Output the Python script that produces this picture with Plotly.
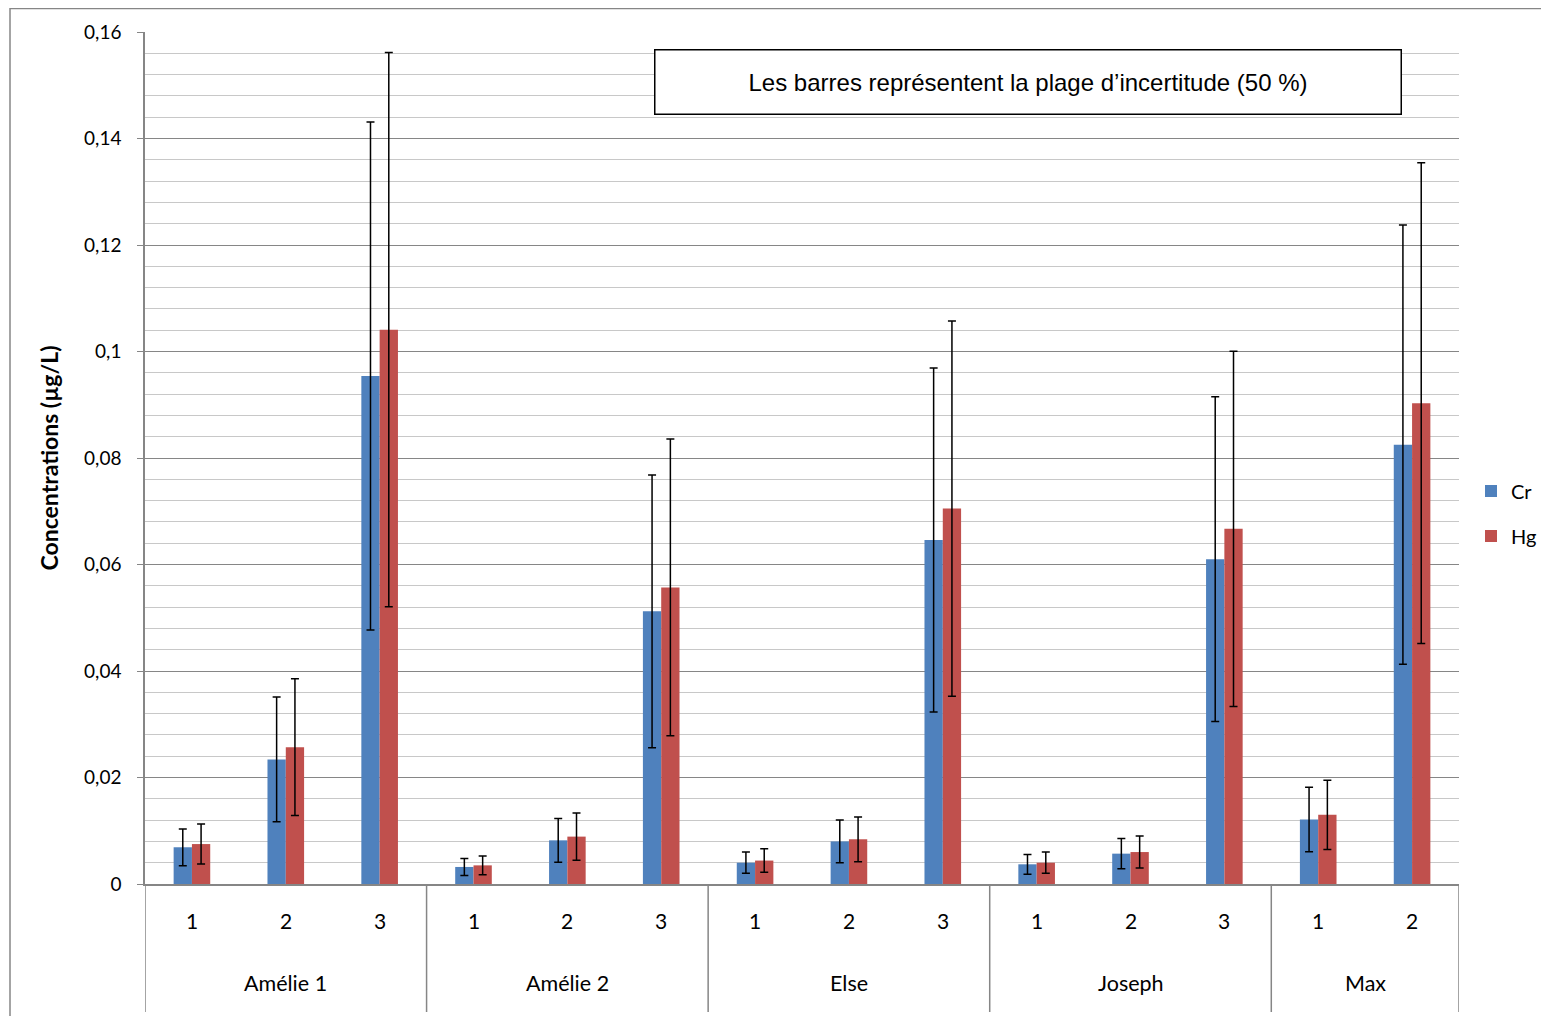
import plotly.graph_objects as go

groups = ["Amélie 1"] * 3 + ["Amélie 2"] * 3 + ["Else"] * 3 + ["Joseph"] * 3 + ["Max"] * 2
samples = ["1", "2", "3", "1", "2", "3", "1", "2", "3", "1", "2", "3", "1", "2"]
cr = [0.0069, 0.0234, 0.0954, 0.0032, 0.0082, 0.0512, 0.0040, 0.0080, 0.0646, 0.0037, 0.0057, 0.0610, 0.0121, 0.0825]
hg = [0.0075, 0.0257, 0.1041, 0.0035, 0.0089, 0.0557, 0.0044, 0.0084, 0.0705, 0.0040, 0.0060, 0.0667, 0.0130, 0.0903]
uncertainty_pct = 50
y_ticks = [0, 0.02, 0.04, 0.06, 0.08, 0.1, 0.12, 0.14, 0.16]

# page body has an 8px margin: figure coordinates = screen - 8
W, H = 1541, 1008
L, R, T, B = 137, 1451, 24, 876
PW, PH = R - L, B - T


def px(xs):
    return (xs - 8 - L) / PW


def py(ys):
    return (B - (ys - 8)) / PH


cats = [f"{g} – {s}" for g, s in zip(groups, samples)]

err = dict(type="percent", value=uncertainty_pct, color="black", thickness=1.5, width=4)

fig = go.Figure()
fig.add_trace(go.Bar(x=cats, y=cr, name="Cr", marker_color="#4F81BD",
                     marker_line_width=0, error_y=err, legendgroup="cr"))
fig.add_trace(go.Bar(x=cats, y=hg, name="Hg", marker_color="#C0504D",
                     marker_line_width=0, error_y=err, legendgroup="hg"))

fig.update_layout(
    width=W, height=H,
    margin=dict(l=L, r=W - R, t=T, b=H - B, autoexpand=False),
    paper_bgcolor="white", plot_bgcolor="white",
    separators=", ",
    barmode="group", bargap=0.61, bargroupgap=0,
    showlegend=True,
    legend=dict(x=px(1471), xanchor="left", y=py(513.5), yanchor="middle",
                font=dict(family="Lato", size=20, color="black"),
                traceorder="grouped", tracegroupgap=16, itemwidth=30,
                bgcolor="rgba(0,0,0,0)", borderwidth=0),
    font=dict(family="Lato", color="black"),
)

fig.update_yaxes(
    range=[0, 0.16], tickvals=y_ticks, showgrid=True, gridcolor="#868686", gridwidth=1.3,
    minor=dict(dtick=0.004, showgrid=True, gridcolor="#c8c8c8", gridwidth=1.3, ticks=""),
    showline=True, linecolor="#868686", linewidth=1.5,
    ticks="outside", ticklen=6, tickcolor="#868686", ticklabelstandoff=12,
    tickfont=dict(family="Lato", size=19, color="black"),
    zeroline=False,
    title=dict(text="<b>Concentrations (µg/L)</b>", font=dict(family="Lato", size=23, color="black"), standoff=19),
)

fig.update_xaxes(
    type="category", categoryorder="array", categoryarray=cats,
    showline=True, linecolor="#868686", linewidth=1.5,
    showticklabels=False, ticks="", showgrid=False, range=[-0.5, len(cats) - 0.5],
)

# sample labels (first level)
for i, s in enumerate(samples):
    fig.add_annotation(text=s, xref="x", yref="paper", x=i, y=py(920),
                       xanchor="center", yanchor="middle", showarrow=False,
                       font=dict(family="Lato", size=21, color="black"))

# group labels (second level) and dividers
bounds = [-0.5]
seen = []
for g in groups:
    if g not in seen:
        seen.append(g)
for g in seen:
    idx = [i for i, gg in enumerate(groups) if gg == g]
    fig.add_annotation(text=g, xref="x", yref="paper", x=sum(idx) / len(idx), y=py(983),
                       xanchor="center", yanchor="middle", showarrow=False,
                       font=dict(family="Lato", size=21.5, color="black"))
    bounds.append(max(idx) + 0.5)
for bx in bounds:
    fig.add_shape(type="line", xref="x", yref="paper", x0=bx, x1=bx, y0=0, y1=py(1012),
                  line=dict(color="#868686", width=1.5))

fig.add_annotation(
    text="Les barres représentent la plage d’incertitude (50 %)",
    xref="paper", yref="paper",
    x=px(1028), y=py(82), xanchor="center", yanchor="middle",
    showarrow=False, width=743, height=61, align="center",
    bordercolor="black", borderwidth=1.5, bgcolor="white",
    font=dict(family="Liberation Sans", size=24, color="black"),
)

fig.add_shape(type="rect", xref="paper", yref="paper",
              x0=px(10), x1=px(1600), y0=py(1100), y1=py(8.5),
              line=dict(color="#868686", width=1.5), fillcolor="rgba(0,0,0,0)", layer="below")

fig.write_html("out.html")
